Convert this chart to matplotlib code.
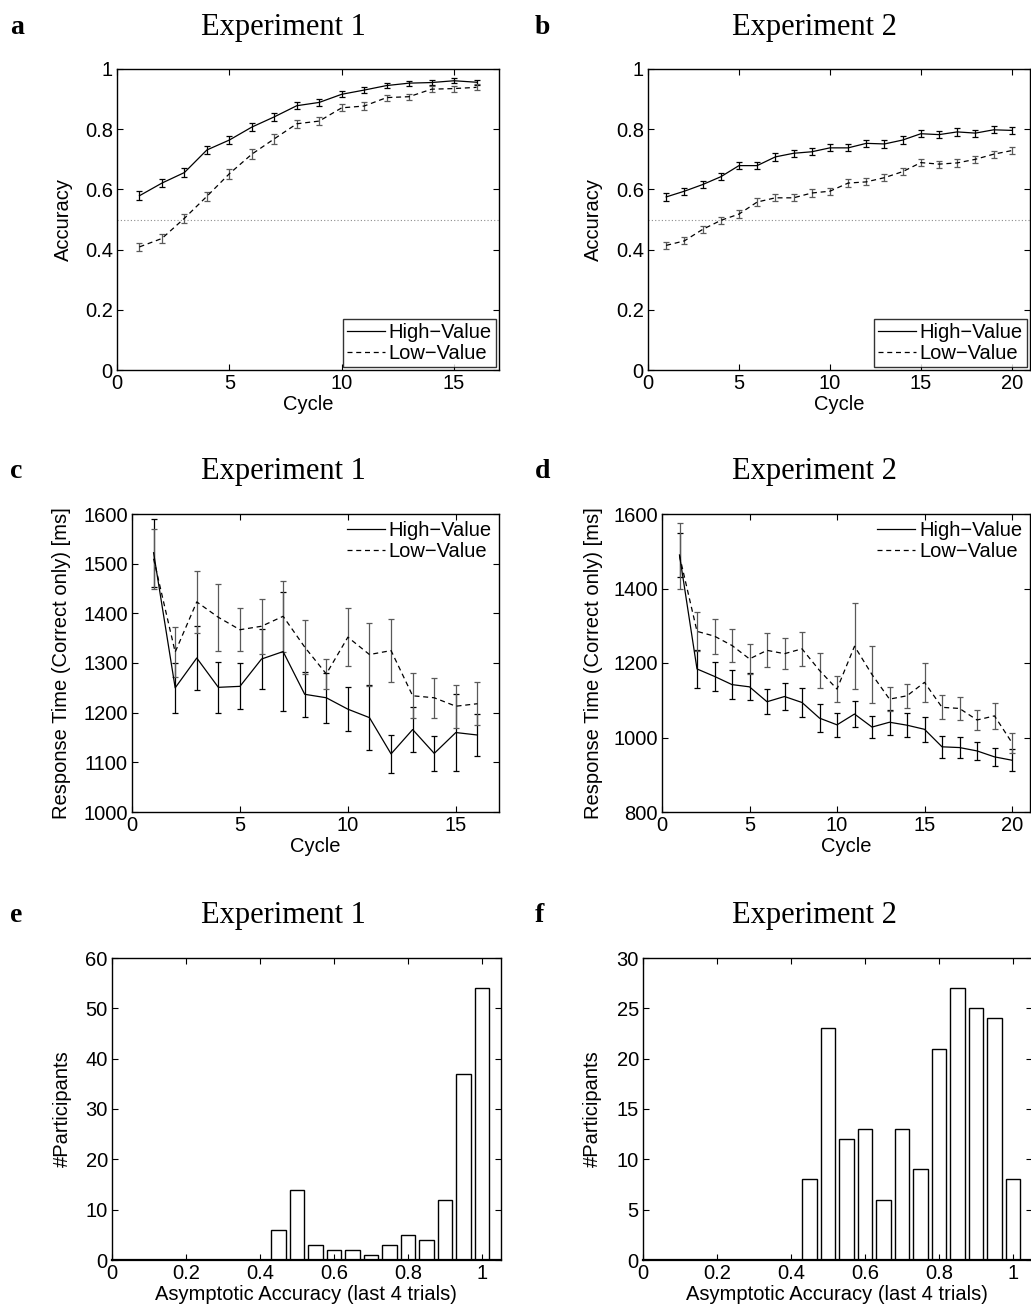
import matplotlib
matplotlib.use('Agg')
import matplotlib.pyplot as plt
from matplotlib.ticker import FuncFormatter
import numpy as np

plt.rcParams['font.family'] = ['Liberation Sans', 'DejaVu Sans']
plt.rcParams['axes.linewidth'] = 1.0

# ---- data ----
cycles_exp1 = np.arange(1, 17)
cycles_exp2 = np.arange(1, 21)

# accuracy, experiment 1
acc1_high = [0.579, 0.621, 0.656, 0.731, 0.764, 0.807, 0.841, 0.878, 0.889, 0.916,
             0.930, 0.945, 0.953, 0.955, 0.961, 0.956]
acc1_high_err = [0.015, 0.013, 0.014, 0.014, 0.013, 0.013, 0.013, 0.011, 0.011, 0.010,
                 0.009, 0.008, 0.008, 0.009, 0.008, 0.008]
acc1_low = [0.409, 0.437, 0.504, 0.577, 0.652, 0.717, 0.768, 0.818, 0.827, 0.871,
            0.877, 0.905, 0.908, 0.933, 0.935, 0.939]
acc1_low_err = [0.013, 0.014, 0.015, 0.016, 0.017, 0.016, 0.016, 0.014, 0.014, 0.012,
                0.012, 0.010, 0.010, 0.010, 0.010, 0.010]

# accuracy, experiment 2
acc2_high = [0.575, 0.594, 0.616, 0.642, 0.679, 0.679, 0.708, 0.720, 0.725, 0.738,
             0.738, 0.753, 0.751, 0.764, 0.785, 0.782, 0.791, 0.787, 0.798, 0.796]
acc2_high_err = [0.012] * 20
acc2_low = [0.414, 0.429, 0.467, 0.497, 0.518, 0.558, 0.572, 0.572, 0.588, 0.594,
            0.621, 0.625, 0.639, 0.659, 0.689, 0.684, 0.688, 0.700, 0.717, 0.729]
acc2_low_err = [0.012] * 20

# response time, experiment 1
rt1_high = [1522, 1250, 1310, 1251, 1253, 1308, 1323, 1237, 1230, 1207,
            1190, 1117, 1166, 1118, 1160, 1155]
rt1_high_err = [68, 50, 65, 51, 46, 60, 120, 45, 50, 44, 65, 38, 46, 36, 77, 42]
rt1_low = [1510, 1322, 1423, 1392, 1367, 1374, 1394, 1332, 1278, 1352,
           1317, 1325, 1234, 1230, 1213, 1218]
rt1_low_err = [60, 50, 62, 68, 43, 55, 72, 55, 30, 58, 63, 63, 45, 40, 43, 43]

# response time, experiment 2
rt2_high = [1490, 1184, 1164, 1142, 1136, 1096, 1110, 1094, 1052, 1034,
            1063, 1028, 1041, 1033, 1022, 975, 973, 964, 948, 939]
rt2_high_err = [58, 50, 40, 38, 36, 33, 37, 38, 38, 32, 34, 30, 34, 32, 34, 30, 29, 25, 25, 30]
rt2_low = [1488, 1285, 1272, 1247, 1211, 1234, 1225, 1238, 1180, 1130,
           1245, 1169, 1103, 1112, 1148, 1081, 1078, 1047, 1058, 986]
rt2_low_err = [88, 53, 47, 45, 40, 46, 41, 45, 46, 36, 115, 76, 33, 32, 53, 32, 31, 26, 34, 27]

# asymptotic accuracy histograms
hist_bins = [0.45, 0.50, 0.55, 0.60, 0.65, 0.70, 0.75, 0.80, 0.85, 0.90, 0.95, 1.00]
hist_exp1 = [6, 14, 3, 2, 2, 1, 3, 5, 4, 12, 37, 54]
hist_exp2 = [8, 23, 12, 13, 6, 13, 9, 21, 27, 25, 24, 8]

W, H = 1031, 1308
fig = plt.figure(figsize=(W / 100, H / 100), dpi=100)


def rect(l, r, t, b):
    return [l / W, 1 - b / H, (r - l) / W, (b - t) / H]


def style_axes(ax):
    ax.tick_params(direction='in', top=True, right=True, length=4, width=0.8,
                   labelsize=14.5, pad=3)
    ax.xaxis.set_major_formatter(FuncFormatter(lambda v, p: '%g' % v))
    ax.yaxis.set_major_formatter(FuncFormatter(lambda v, p: '%g' % v))


def draw_lines(ax, x, hi, hi_err, lo, lo_err):
    dash = (0, (4, 3))
    ax.errorbar(x, hi, yerr=hi_err, fmt='none', ecolor='k', elinewidth=0.9,
                capsize=2.5, capthick=0.9)
    ax.errorbar(x, lo, yerr=lo_err, fmt='none', ecolor='0.35', elinewidth=0.9,
                capsize=2.5, capthick=0.9)
    ax.plot(x, hi, color='k', linewidth=0.9, label='High\u2212Value')
    ax.plot(x, lo, color='k', linewidth=0.9, linestyle=dash, label='Low\u2212Value')


def panel_text(letter, title, x_letter, x_title, y):
    fig.text(x_letter / W, 1 - y / H, letter, ha='left', va='center',
             family='Liberation Serif', fontweight='bold', fontsize=20)
    fig.text(x_title / W, 1 - y / H, title, ha='center', va='center',
             family='Liberation Serif', fontsize=22)


# ---- a / b: accuracy ----
for (l, r, xmax, x, hi, hie, lo, loe, xticks, lab_x) in [
        (117, 499, 17, cycles_exp1, acc1_high, acc1_high_err, acc1_low, acc1_low_err, [0, 5, 10, 15], 73),
        (648, 1030, 21, cycles_exp2, acc2_high, acc2_high_err, acc2_low, acc2_low_err, [0, 5, 10, 15, 20], 603)]:
    ax = fig.add_axes(rect(l, r, 69, 370))
    ax.axhline(0.5, color='0.55', linestyle=(0, (1, 2)), linewidth=0.8)
    draw_lines(ax, x, hi, hie, lo, loe)
    ax.set_xlim(0, xmax)
    ax.set_ylim(0, 1)
    ax.set_xticks(xticks)
    ax.set_yticks([0, 0.2, 0.4, 0.6, 0.8, 1])
    style_axes(ax)
    ax.set_xlabel('Cycle', fontsize=14.5, labelpad=1)
    ax.set_ylabel('Accuracy', fontsize=14.5)
    ax.yaxis.set_label_coords((lab_x - l) / (r - l), 0.5)
    leg = ax.legend(loc='lower right', fontsize=14.5, frameon=True, fancybox=False,
                    handlelength=1.9, handletextpad=0.2, borderpad=0.2,
                    labelspacing=0.1, borderaxespad=0.15)
    leg.get_frame().set_edgecolor('k')
    leg.get_frame().set_linewidth(1.0)

# ---- c / d: response time ----
for (l, r, xmax, x, hi, hie, lo, loe, xticks, ylim, yticks, lab_x) in [
        (132, 499, 17, cycles_exp1, rt1_high, rt1_high_err, rt1_low, rt1_low_err,
         [0, 5, 10, 15], (1000, 1600), np.arange(1000, 1601, 100), 71),
        (662, 1029.5, 21, cycles_exp2, rt2_high, rt2_high_err, rt2_low, rt2_low_err,
         [0, 5, 10, 15, 20], (800, 1600), np.arange(800, 1601, 200), 603)]:
    ax = fig.add_axes(rect(l, r, 514, 812))
    draw_lines(ax, x, hi, hie, lo, loe)
    ax.set_xlim(0, xmax)
    ax.set_ylim(*ylim)
    ax.set_xticks(xticks)
    ax.set_yticks(yticks)
    style_axes(ax)
    ax.set_xlabel('Cycle', fontsize=14.5, labelpad=1)
    ax.set_ylabel('Response Time (Correct only) [ms]', fontsize=14.5)
    ax.yaxis.set_label_coords((lab_x - l) / (r - l), 0.5)
    ax.legend(loc='upper right', fontsize=14.5, frameon=False, handlelength=1.9,
              handletextpad=0.2, borderpad=0.2, labelspacing=0.1, borderaxespad=0.15)

# ---- e / f: histograms ----
for (l, r, counts, ymax, yticks, lab_x) in [
        (112, 500.5, hist_exp1, 60, np.arange(0, 61, 10), 72),
        (643, 1031.5, hist_exp2, 30, np.arange(0, 31, 5), 602)]:
    ax = fig.add_axes(rect(l, r, 958, 1260))
    ax.bar(hist_bins, counts, width=0.04, color='white', edgecolor='black', linewidth=1.0)
    ax.set_xlim(0, 1.05)
    ax.set_ylim(0, ymax)
    ax.set_xticks([0, 0.2, 0.4, 0.6, 0.8, 1])
    ax.set_yticks(yticks)
    style_axes(ax)
    ax.spines['bottom'].set_linewidth(1.6)
    ax.set_xlabel('Asymptotic Accuracy (last 4 trials)', fontsize=14.5, labelpad=1)
    ax.set_ylabel('#Participants', fontsize=14.5)
    ax.yaxis.set_label_coords((lab_x - l) / (r - l), 0.5)

# panel letters and titles
panel_text('a', 'Experiment 1', 10, 283, 27)
panel_text('b', 'Experiment 2', 535, 814, 27)
panel_text('c', 'Experiment 1', 10, 283, 472)
panel_text('d', 'Experiment 2', 535, 814, 472)
panel_text('e', 'Experiment 1', 10, 283, 916)
panel_text('f', 'Experiment 2', 535, 814, 916)

fig.savefig('out.png', dpi=100)
